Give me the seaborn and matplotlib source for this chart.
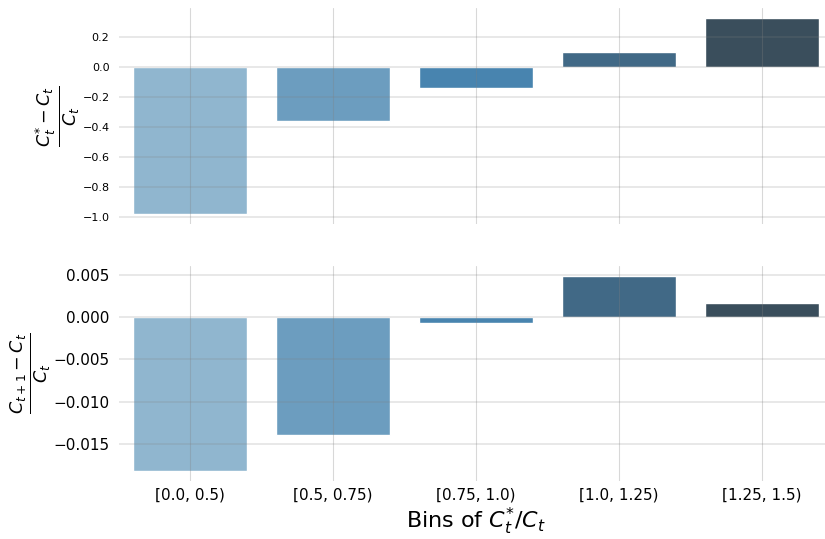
import matplotlib
matplotlib.use("Agg")
import matplotlib.pyplot as plt
import seaborn as sns
import pandas as pd

bins = ["[0.0, 0.5)", "[0.5, 0.75)", "[0.75, 1.0)", "[1.0, 1.25)", "[1.25, 1.5)"]
rel_diff_star = [-0.98, -0.36, -0.14, 0.10, 0.327]
rel_diff_next = [-0.01825, -0.0140, -0.00065, 0.0049, 0.0017]

sns.set_style("white")
plt.rcParams.update({"text.color": "black", "axes.labelcolor": "black",
                     "xtick.color": "black", "ytick.color": "black"})
palette = sns.color_palette("Blues_d", len(bins))

fig = plt.figure(figsize=(8.25, 5.39), dpi=100)
ax1 = fig.add_axes([118.5 / 825, 1 - 224 / 539, 715 / 825, 216 / 539])
ax2 = fig.add_axes([118.5 / 825, 1 - 481 / 539, 715 / 825, 215 / 539], sharex=ax1)

df = pd.DataFrame({"bin": bins, "star": rel_diff_star, "next": rel_diff_next})

sns.barplot(data=df, x="bin", y="star", hue="bin", palette=palette, legend=False, ax=ax1)
sns.barplot(data=df, x="bin", y="next", hue="bin", palette=palette, legend=False, ax=ax2)

for ax in (ax1, ax2):
    for s in ax.spines.values():
        s.set_visible(False)
    ax.set_axisbelow(False)
    ax.grid(True, axis="x", color="gray", alpha=0.3, linewidth=0.8)
    ax.grid(True, axis="y", color="gray", alpha=0.2, linewidth=1.3)
    ax.tick_params(axis="both", which="both", length=3, width=1, color="#333333", direction="out")
    ax.margins(y=0.05)

ax1.tick_params(axis="x", labelbottom=False)
ax1.tick_params(axis="y", labelsize=8)
ax1.set_xlabel("")
ax1.set_ylabel(r"$\frac{C_t^{*} - C_t}{C_t}$", fontsize=18, labelpad=0)

ax2.tick_params(axis="x", labelsize=11, pad=2)
ax2.tick_params(axis="y", labelsize=11)
ax2.set_ylabel(r"$\frac{C_{t+1} - C_t}{C_t}$", fontsize=18, labelpad=0)
ax2.set_xlabel(r"Bins of $C_t^{*}/C_t$", fontsize=16, labelpad=2)

fig.savefig("out.png", dpi=100)
